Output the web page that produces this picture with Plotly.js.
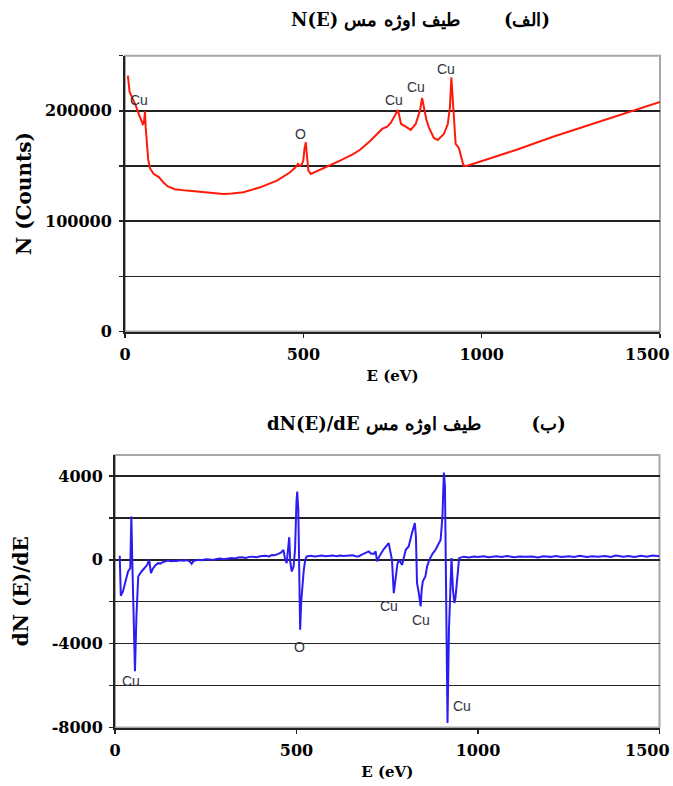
<!DOCTYPE html>
<html>
<head>
<meta charset="utf-8">
<script src="https://cdn.plot.ly/plotly-3.0.1.min.js"></script>
<style>html,body{margin:0;padding:0;background:#fff;}#chart{width:673px;height:786px;}</style>
</head>
<body>
<div id="chart"></div>
<script>
// ---- Top panel: N(E) ----
const energyN = [8, 10, 13, 20, 30, 40, 46, 50, 53, 56, 58, 61, 65, 70, 80, 95, 108, 120, 140, 173, 219, 276, 300, 332, 379, 426, 463, 478, 485, 490, 495, 500, 503, 507, 510, 514, 521, 540, 566, 600, 641, 660, 688, 697, 710, 721, 735, 745, 754, 760, 765, 768, 774, 787, 801, 815, 827, 833, 838, 845, 852, 866, 877, 894, 905, 911, 915, 918, 922, 927, 936, 941, 949, 958, 1000, 1100, 1200, 1300, 1400, 1500];
const countsN = [232000, 222000, 217000, 212000, 205000, 196000, 190000, 188000, 189000, 199500, 185000, 170000, 156000, 148000, 143000, 140000, 135000, 131500, 129000, 127700, 126200, 124700, 125200, 126200, 130700, 136800, 144300, 148800, 152000, 150000, 151000, 155000, 165000, 171500, 160000, 146000, 142800, 145500, 149500, 154500, 161000, 165000, 173000, 176000, 180000, 183600, 185700, 189000, 194100, 198000, 200800, 197000, 188100, 185700, 182700, 188100, 200200, 211700, 203000, 192000, 185000, 175400, 173600, 179000, 188100, 203200, 230300, 215000, 190000, 170000, 166400, 159400, 150400, 150000, 154500, 165000, 176500, 187000, 197800, 208000];
const peakNamesN = ["Cu", "O", "Cu", "Cu", "Cu"];
const peakEN = [40, 492, 754, 817, 899];
const peakYN = [209900, 179000, 209900, 221300, 238000];
const yTicksN = [0, 50000, 100000, 150000, 200000];
const yTextN = ["0", "", "100000", "", "200000"];

// ---- Bottom panel: dN(E)/dE ----
const energyD = [13, 16, 22, 30, 36, 42, 45, 48, 52, 55, 59, 64, 73, 89, 94, 99, 105, 112, 119, 125, 130, 138, 146, 155, 163, 170, 180, 190, 198, 206, 211, 216, 222, 229, 240, 250, 260, 270, 280, 290, 300, 310, 321, 330, 340, 350, 360, 370, 380, 390, 400, 414, 425, 432, 440, 450, 458, 464, 469, 473, 477, 480, 483, 487, 492, 496, 500, 502, 505, 508, 510, 513, 515, 520, 524, 528, 540, 550, 560, 570, 580, 590, 600, 610, 620, 630, 644, 655, 663, 671, 680, 690, 699, 705, 713, 718, 722, 727, 740, 754, 760, 763, 768, 774, 778, 782, 786, 791, 801, 809, 818, 826, 829, 832, 837, 842, 845, 848, 855, 860, 866, 875, 883, 897, 902, 906, 909, 912, 916, 920, 925, 927, 931, 935, 938, 941, 945, 948, 960, 975, 990, 1000, 1015, 1030, 1050, 1065, 1080, 1100, 1115, 1130, 1150, 1165, 1180, 1200, 1215, 1230, 1250, 1265, 1280, 1300, 1315, 1330, 1350, 1365, 1380, 1400, 1415, 1430, 1450, 1465, 1480, 1500];
const derivD = [190, -1714, -1500, -1000, -557, -400, 2060, -320, -2700, -5320, -2700, -795, -557, -240, 30, -635, -400, -250, -160, -180, -120, -90, -30, -70, -40, -60, -20, -40, -10, -80, -190, -60, -30, 0, -20, 30, 20, -10, 40, 60, 30, 70, 80, 60, 110, 120, 90, 140, 150, 120, 170, 190, 160, 230, 220, 285, 350, 476, 0, -160, 600, 1080, -130, -557, -320, 500, 2800, 3250, 2380, -1110, -3330, -2000, -1430, -500, 0, 160, 190, 160, 180, 210, 170, 200, 200, 170, 210, 180, 190, 220, 170, 160, 250, 350, 400, 300, 285, 400, -80, 130, 500, 795, 300, 0, -1590, -795, -200, 0, -100, -240, 476, 635, 1270, 1750, 1110, -1110, -1590, -2220, -1400, -1030, -795, -300, 0, 300, 476, 950, 2060, 4160, 3500, -3330, -7780, -3330, 0, 80, -1430, -2060, -1800, -1110, -300, 80, 150, 110, 160, 130, 170, 120, 170, 130, 180, 120, 160, 140, 160, 110, 170, 140, 180, 130, 170, 140, 190, 130, 170, 150, 180, 130, 200, 150, 180, 140, 190, 150, 210, 170];
const peakNamesD = ["Cu", "O", "Cu", "Cu", "Cu"];
const peakED = [43, 507, 754, 844, 957];
const peakYD = [-5795, -4157, -2190, -2890, -6985];
const yTicksD = [-8000, -6000, -4000, -2000, 0, 2000, 4000];
const yTextD = ["-8000", "", "-4000", "", "0", "", "4000"];

const xTicks = [0, 500, 1000, 1500];
const xText = ["0", "500", "1000", ""];   // the last label ("1500") sits against the page edge, drawn below
const lastXLabel = "1500";

const titleTop = "N(E) \u2067(الف)\u00A0\u00A0\u00A0\u00A0\u00A0\u00A0\u00A0طیف اوژه مس\u2069";
const titleBottom = "dN(E)/dE \u2067(ب)\u00A0\u00A0\u00A0\u00A0\u00A0\u00A0\u00A0\u00A0طیف اوژه مس\u2069";

const serifBold = {family: "DejaVu Serif", size: 16, color: "#000", weight: "bold"};
const yTitleFont = {family: "DejaVu Serif", size: 20, color: "#000", weight: "bold"};
const xTitleFont = {family: "DejaVu Serif", size: 15, color: "#000", weight: "bold"};
const labelFont = {family: "Liberation Sans", size: 14, color: "#333344"};

const traces = [
  {x: energyN, y: countsN, xaxis: "x", yaxis: "y", type: "scatter", mode: "lines",
   line: {color: "#ff1a0a", width: 2}, hoverinfo: "skip", showlegend: false},
  {x: energyD, y: derivD, xaxis: "x2", yaxis: "y2", type: "scatter", mode: "lines",
   line: {color: "#2a1cf2", width: 2}, hoverinfo: "skip", showlegend: false}
];

function xAxis(domain, anchor) {
  return {domain: domain, anchor: anchor, range: [0, 1500], tickmode: "array", tickvals: xTicks, ticktext: xText,
    ticks: "outside", ticklen: 4, tickwidth: 1.5, tickcolor: "#222",
    showline: true, linecolor: "#222", linewidth: 2, showgrid: false, zeroline: false,
    tickfont: serifBold, ticklabelstandoff: 3, fixedrange: true,
    title: {text: "E (eV)", font: xTitleFont, standoff: 8}};
}

const annotations = [];
for (let i = 0; i < peakNamesN.length; i++) {
  annotations.push({xref: "x", yref: "y", x: peakEN[i], y: peakYN[i], text: peakNamesN[i],
    showarrow: false, font: labelFont});
}
for (let i = 0; i < peakNamesD.length; i++) {
  annotations.push({xref: "x2", yref: "y2", x: peakED[i], y: peakYD[i], text: peakNamesD[i],
    showarrow: false, font: labelFont});
}
annotations.push({xref: "paper", yref: "paper", x: 672 / 673, y: (786 - 354) / 786, text: lastXLabel,
  xanchor: "right", yanchor: "middle", showarrow: false, font: serifBold});
annotations.push({xref: "paper", yref: "paper", x: 672 / 673, y: (786 - 750) / 786, text: lastXLabel,
  xanchor: "right", yanchor: "middle", showarrow: false, font: serifBold});
annotations.push({xref: "paper", yref: "paper", x: 420 / 673, y: (786 - 20) / 786, text: titleTop,
  xanchor: "center", yanchor: "middle", showarrow: false,
  font: {family: "DejaVu Serif", size: 18, color: "#000", weight: "bold"}});
annotations.push({xref: "paper", yref: "paper", x: 416 / 673, y: (786 - 424) / 786, text: titleBottom,
  xanchor: "center", yanchor: "middle", showarrow: false,
  font: {family: "DejaVu Serif", size: 18, color: "#000", weight: "bold"}});

const layout = {
  width: 673, height: 786,
  margin: {l: 0, r: 0, t: 0, b: 0},
  paper_bgcolor: "#fff", plot_bgcolor: "#fff",
  showlegend: false,
  xaxis: xAxis([125 / 673, 660 / 673], "y"),
  yaxis: {domain: [(786 - 331.5) / 786, (786 - 55.7) / 786], anchor: "x", range: [0, 250000],
    tickmode: "array", tickvals: yTicksN, ticktext: yTextN,
    ticks: "outside", ticklen: 4, tickwidth: 1.5, tickcolor: "#222",
    minor: {tickmode: "linear", tick0: 0, dtick: 50000, ticks: "outside", ticklen: 4, tickwidth: 1.5, tickcolor: "#222", showgrid: false},
    showline: true, linecolor: "#222", linewidth: 2,
    showgrid: true, gridcolor: "#222", gridwidth: 1.5, zeroline: false,
    tickfont: serifBold, ticklabelstandoff: 4, fixedrange: true,
    title: {text: "N (Counts)", font: yTitleFont, standoff: 8}},
  xaxis2: xAxis([115 / 673, 659.5 / 673], "y2"),
  yaxis2: {domain: [(786 - 727.5) / 786, (786 - 455) / 786], anchor: "x2", range: [-8000, 5000],
    tickmode: "array", tickvals: yTicksD, ticktext: yTextD,
    ticks: "outside", ticklen: 4, tickwidth: 1.5, tickcolor: "#222",
    showline: true, linecolor: "#222", linewidth: 2,
    showgrid: true, gridcolor: "#222", gridwidth: 1.5, zeroline: false,
    tickfont: serifBold, ticklabelstandoff: 3, fixedrange: true,
    title: {text: "dN (E)/dE", font: yTitleFont, standoff: 18}},
  shapes: [
    {type: "rect", xref: "x domain", yref: "y domain", x0: 0, x1: 1, y0: 0, y1: 1,
     line: {color: "#a8a8a8", width: 2}, layer: "below"},
    {type: "rect", xref: "x2 domain", yref: "y2 domain", x0: 0, x1: 1, y0: 0, y1: 1,
     line: {color: "#a8a8a8", width: 2}, layer: "below"}
  ],
  annotations: annotations
};

Plotly.newPlot("chart", traces, layout, {staticPlot: true, displayModeBar: false});
</script>
</body>
</html>
